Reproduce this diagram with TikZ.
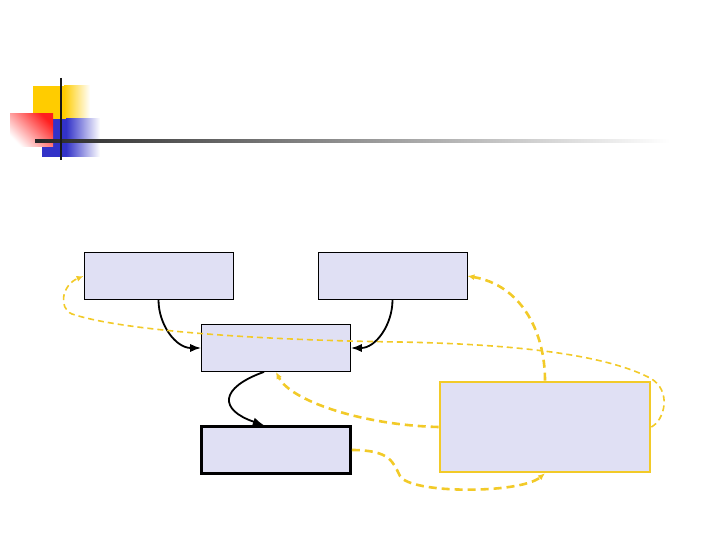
\documentclass[tikz,border=0pt]{standalone}
\usepackage{tikz}
\usetikzlibrary{arrows.meta}
\definecolor{boxfill}{RGB}{224,224,244}
\definecolor{linkyellow}{RGB}{242,202,40}
\definecolor{logoyellow}{RGB}{255,204,0}
\definecolor{logoblue}{RGB}{50,50,200}
\definecolor{logored}{RGB}{255,30,30}

\begin{document}
\begin{tikzpicture}[x=1bp, y=-1bp, >=Latex,
  box/.style={draw, fill=boxfill, line width=0.8bp, inner sep=0pt, minimum width=149bp, minimum height=47bp},
  flow/.style={->, line width=1.8bp},
  link/.style={->, >={Latex[length=7bp,width=6bp]}, color=linkyellow, line width=2.6bp, dash pattern=on 8bp off 5bp},
  thinlink/.style={link, line width=1.6bp, dash pattern=on 6bp off 4bp}]
  \useasboundingbox (0,0) rectangle (720,540);
  \fill[logoyellow] (33,86) rectangle (64,125);
  \shade[left color=logoyellow, right color=white] (64,86) rectangle (90,125);
  \fill[logoblue] (42,119) rectangle (66,157);
  \shade[left color=logoblue, right color=white] (66,119) rectangle (100,157);
  \shade[shading=axis, top color=logored, bottom color=white, shading angle=-45] (10,114) rectangle (53,147);
  \shade[left color=black!85, right color=white] (35,139.5) rectangle (670,142.5);
  \draw[black!90, line width=2.5bp] (61,78) -- (61,160);
  \node[box] (a) at (158.5,276) {};
  \node[box] (b) at (392.5,276) {};
  \node[box] (c) at (276,348) {};
  \node[box, line width=2.6bp] (d) at (276,450) {};
  \node[box, draw=linkyellow, line width=2.6bp, minimum width=210bp, minimum height=90bp] (e) at (545,427) {};
  \draw[flow] (a.south) to[out=-90, in=180] (c.west);
  \draw[flow] (b.south) to[out=-90, in=0] (c.east);
  \draw[flow] ([xshift=-12bp]c.south) .. controls (219,388) and (219,410) .. ([xshift=-12bp]d.north);
  \draw[link] (e.north) .. controls (545,330) and (520,285) .. (b.east);
  \draw[link] (e.west) .. controls (360,425) and (290,400) .. (c.south);
  \draw[link] (d.east) .. controls (390,450) and (393,462) .. (400,476) .. controls (410,494) and (520,494) .. (e.south);
  \draw[thinlink] (e.east) .. controls (665,420) and (672,390) .. (650,378)
    .. controls (600,352) and (500,344) .. (400,342)
    .. controls (250,340) and (120,330) .. (72,314)
    .. controls (58,308) and (62,285) .. (a.west);
\end{tikzpicture}
\end{document}
